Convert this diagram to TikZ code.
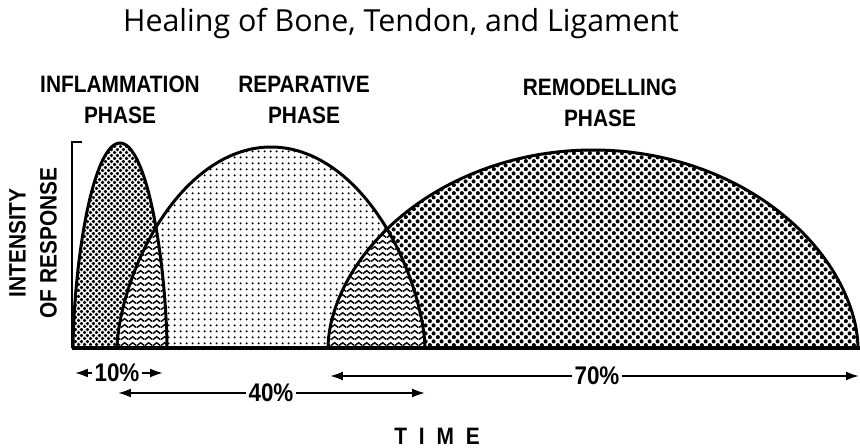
\documentclass[tikz,border=0pt]{standalone}
\usepackage{fontspec}
\usepackage{tikz}
\usetikzlibrary{positioning,arrows.meta,patterns}
\newfontfamily\titlefont{Open Sans}
\newfontfamily\condfont{Liberation Sans}[FakeStretch=0.88]

% fill patterns
\pgfdeclarepatternformonly{inflamdots}{\pgfpointorigin}{\pgfpoint{3.4pt}{3.4pt}}{\pgfpoint{3.4pt}{3.4pt}}{%
  \pgfpathcircle{\pgfpoint{0.85pt}{0.85pt}}{1.05pt}%
  \pgfpathcircle{\pgfpoint{2.55pt}{2.55pt}}{1.05pt}%
  \pgfusepath{fill}}
\pgfdeclarepatternformonly{repardots}{\pgfpointorigin}{\pgfpoint{3.2pt}{3.2pt}}{\pgfpoint{3.2pt}{3.2pt}}{%
  \pgfpathcircle{\pgfpoint{1.6pt}{1.6pt}}{0.68pt}%
  \pgfusepath{fill}}
\pgfdeclarepatternformonly{remoddots}{\pgfpointorigin}{\pgfpoint{4.4pt}{4.4pt}}{\pgfpoint{4.4pt}{4.4pt}}{%
  \pgfpathcircle{\pgfpoint{1.1pt}{1.1pt}}{1.2pt}%
  \pgfpathcircle{\pgfpoint{3.3pt}{3.3pt}}{1.2pt}%
  \pgfusepath{fill}}
\pgfdeclarepatternformonly{zigzag}{\pgfpointorigin}{\pgfpoint{4.6pt}{3.6pt}}{\pgfpoint{4.6pt}{3.6pt}}{%
  \pgfsetlinewidth{0.9pt}%
  \pgfpathmoveto{\pgfpoint{0pt}{0.9pt}}%
  \pgfpathlineto{\pgfpoint{2.3pt}{2.7pt}}%
  \pgfpathlineto{\pgfpoint{4.6pt}{0.9pt}}%
  \pgfusepath{stroke}}

% hump: centre, half width, height, exponent
\newcommand{\hump}[4]{plot[domain=-90:90, samples=120, variable=\t]
  ({#1+#2*sin(\t)}, {99+#3*pow(max(cos(\t),0.001),#4)}) -- cycle}

\begin{document}
\begin{tikzpicture}[
  x=0.02cm, y=0.02cm,
  lbl/.style={font=\condfont\bfseries\fontsize{13.5}{17.6}\selectfont, align=center},
  pct/.style={font=\condfont\bfseries\fontsize{14.5}{16}\selectfont, inner sep=1pt},
  curve/.style={line width=1.7pt, line join=round},
  arr/.style={-{Latex[length=2.6mm,width=1.8mm]}, line width=1.1pt}
]
  \useasboundingbox (0,0) rectangle (860,447);

  % phases
  \fill[pattern=inflamdots] \hump{120}{47}{205}{1.2};
  \fill[pattern=repardots] \hump{271}{154}{201}{1.25};
  \fill[pattern=remoddots] \hump{593}{265}{198}{1.1};
  \begin{scope}
    \clip \hump{120}{47}{205}{1.2};
    \fill[white] \hump{271}{154}{201}{1.25};
    \fill[pattern=zigzag] \hump{271}{154}{201}{1.25};
  \end{scope}
  \begin{scope}
    \clip \hump{271}{154}{201}{1.25};
    \fill[white] \hump{593}{265}{198}{1.1};
    \fill[pattern=zigzag] \hump{593}{265}{198}{1.1};
  \end{scope}
  \draw[curve] \hump{120}{47}{205}{1.2};
  \draw[curve] \hump{271}{154}{201}{1.25};
  \draw[curve] \hump{593}{265}{198}{1.1};

  % axes
  \draw[line width=1.1pt] (82,305) -- (72,305) -- (72,99);
  \draw[line width=2pt] (72,99) -- (860,99);

  % texts
  \node[font=\titlefont\fontsize{17.3}{20}\selectfont, anchor=base] (ttl) at (401,415)
    {Healing of Bone, Tendon, and Ligament};
  \node[lbl] (inflam) at (120,347) {INFLAMMATION\\PHASE};
  \node[lbl] (repar) at (304,347) {REPARATIVE\\PHASE};
  \node[lbl] (remod) at (600,344) {REMODELLING\\PHASE};
  \node[lbl, rotate=90] (ylab) at (33,204) {INTENSITY\\OF RESPONSE};
  \node[lbl] (time) at (437,11) {T\hspace{0.5em}I\hspace{0.5em}M\hspace{0.5em}E};

  % durations
  \node[pct] (pct10) at (117,74) {10\%};
  \coordinate (p10l) at (75,74);
  \coordinate (p10r) at (163,74);
  \draw[arr] (pct10) -- (p10l);
  \draw[arr] (pct10) -- (p10r);

  \node[pct] (pct40) at (271,54) {40\%};
  \coordinate (p40l) at (118,54);
  \coordinate (p40r) at (425,54);
  \draw[arr] (pct40) -- (p40l);
  \draw[arr] (pct40) -- (p40r);

  \node[pct] (pct70) at (597,71) {70\%};
  \coordinate (p70l) at (330,71);
  \coordinate (p70r) at (859,71);
  \draw[arr] (pct70) -- (p70l);
  \draw[arr] (pct70) -- (p70r);
\end{tikzpicture}
\end{document}
